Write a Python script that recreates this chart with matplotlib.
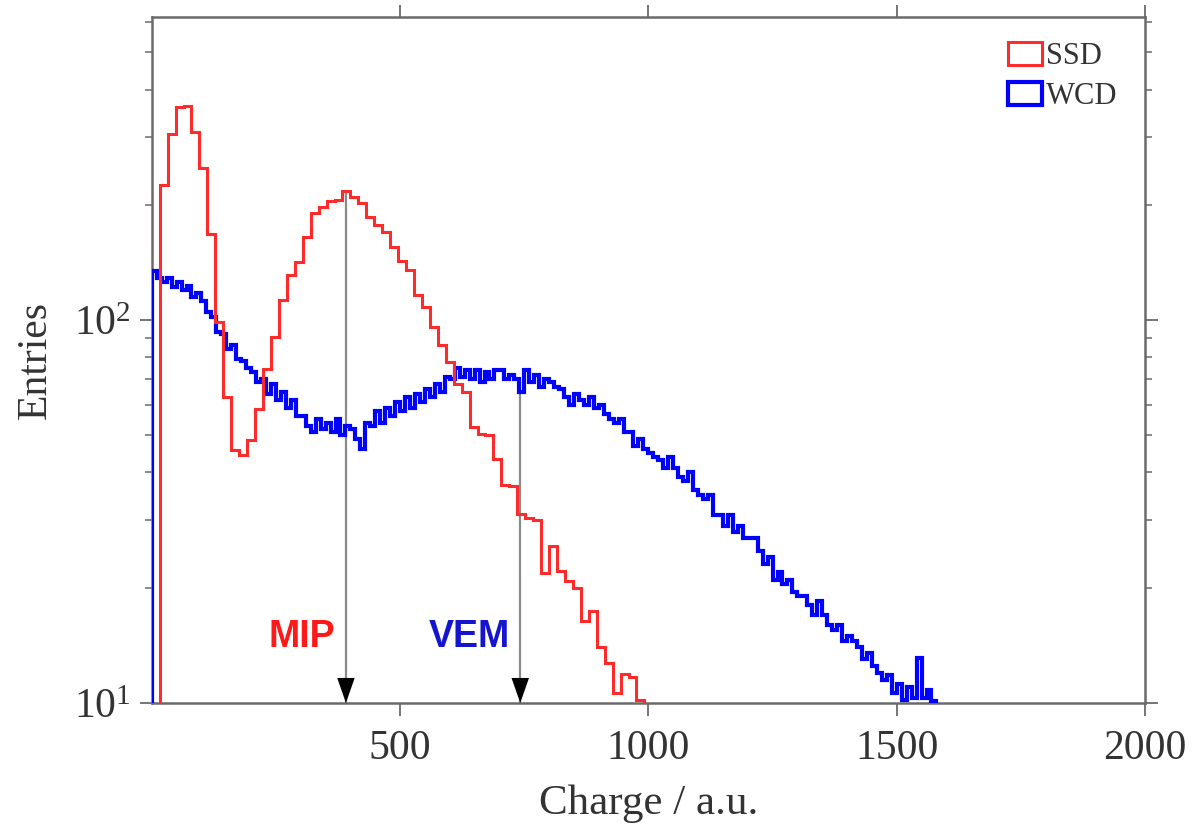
import matplotlib
matplotlib.use("Agg")
import numpy as np
import matplotlib.pyplot as plt
from matplotlib.patches import Patch
from matplotlib.ticker import LogLocator, NullFormatter

plt.rcParams['font.family'] = ['Liberation Serif', 'DejaVu Serif']

# SSD histogram: bin width 16, first bin starts at 16
ssd_start = 16
ssd_width = 16
ssd_counts = [226, 307, 361, 362, 310, 249, 168, 99, 63, 45.7,
              44.3, 48.5, 58.5, 74.4, 90.3, 112.8, 131, 142, 165, 190,
              197, 205, 206, 218, 210, 202, 186, 177, 170, 155,
              143, 135, 116, 108, 96, 86, 77.6, 68, 64.8, 52.5,
              50.5, 50, 43.4, 37, 36.9, 31.1, 30.5, 30, 21.9, 25.7,
              22.1, 20.8, 20, 16.4, 17.4, 14, 12.7, 10.6, 11.9, 11.7,
              10.2]

# WCD histogram: bin width 10, starting at 0
wcd_start = 0
wcd_width = 10
wcd_counts = [134, 129, 126, 129, 122, 126, 120, 123, 115, 118,
              112, 105, 102, 93, 92, 84, 86, 79, 78, 75,
              73, 69, 70, 64, 68, 62, 65, 59, 62, 56,
              56, 53, 51, 55, 52, 54, 51, 55, 50, 53,
              52, 49, 46, 54, 53, 58, 54, 59, 56, 61,
              58, 63, 59, 64, 61, 66, 63, 68, 65, 71,
              70, 75, 71, 74, 70, 74, 69, 73, 70, 74,
              74, 70, 72, 70, 65, 74, 69, 72, 67, 70,
              69, 67, 66, 63, 60, 64, 62, 60, 63, 59,
              60, 57, 55, 54, 55, 51, 51, 47, 49, 46,
              45, 44, 43, 41, 44, 41, 39, 38, 40, 36,
              35, 34, 35, 31, 31, 29, 31, 28, 29, 27,
              27, 27, 25, 23, 24, 21, 22, 20.5, 21, 19.5,
              19, 19, 18, 17, 18.5, 17, 16, 15.5, 16, 14.5,
              15, 14.5, 14, 13, 13.5, 12.5, 12, 11.5, 11.8, 10.6,
              11.2, 10.2, 11, 10.3, 13.1, 10.3, 10.8, 10.1]

# arrows marking the peaks
mip_x, mip_top = 391, 216
vem_x, vem_top = 742, 65

x_ticks = [500, 1000, 1500, 2000]

ssd_edges = ssd_start + ssd_width * np.arange(len(ssd_counts) + 1)
wcd_edges = wcd_start + wcd_width * np.arange(len(wcd_counts) + 1)

fig = plt.figure(figsize=(11.93, 8.27), dpi=100)
ax = fig.add_axes([0.1272, 0.15, 0.8326, 0.8298])

ax.stairs(wcd_counts, wcd_edges, baseline=1, color='#0000ff', lw=3.0, zorder=3)
ax.stairs(ssd_counts, ssd_edges, baseline=1, color='#ff2a2a', lw=2.2, zorder=4)

ax.set_yscale('log')
ax.set_xlim(0, 2000)
ax.set_ylim(10, 620)

for xpos, ytop in [(mip_x, mip_top), (vem_x, vem_top)]:
    ax.vlines(xpos, 10, ytop, color='#8a8a8a', lw=1.6, zorder=2)
    ax.annotate('', xy=(xpos, 10), xytext=(0, 22), textcoords='offset points',
                arrowprops=dict(arrowstyle='-|>,head_length=0.6,head_width=0.21',
                                mutation_scale=30, color='black', lw=0,
                                shrinkA=0, shrinkB=0), zorder=5)

ax.text(369, 14.9, 'MIP', color='#ff1a1a', fontsize=27, fontweight='bold',
        family='Liberation Sans', ha='right', va='center')
ax.text(722, 14.9, 'VEM', color='#1515d0', fontsize=27, fontweight='bold',
        family='Liberation Sans', ha='right', va='center')

ax.set_xticks(x_ticks)
ax.set_xticklabels([str(t) for t in x_ticks])
ax.yaxis.set_major_locator(LogLocator(base=10, numticks=5))
ax.yaxis.set_minor_locator(LogLocator(base=10, subs=np.arange(2, 10), numticks=20))
ax.yaxis.set_minor_formatter(NullFormatter())

for s in ax.spines.values():
    s.set_color('#6a6a6a')
    s.set_linewidth(1.8)
ax.tick_params(which='both', direction='out', top=True, right=True,
               color='#6a6a6a', labelcolor='#333333', labelsize=30)
ax.tick_params(axis='x', pad=10)
ax.tick_params(axis='y', pad=6)
ax.tick_params(which='major', length=9, width=1.3)
ax.tick_params(which='minor', length=5, width=1.1)

ax.set_xlabel('Charge / a.u.', fontsize=31, color='#333333', labelpad=12)
ax.set_ylabel('Entries', fontsize=30, color='#333333', labelpad=14)

handles = [Patch(facecolor='none', edgecolor='#ff2a2a', lw=2.2, label='SSD'),
           Patch(facecolor='none', edgecolor='#0000ff', lw=3.0, label='WCD')]
ax.legend(handles=handles, loc='upper right', bbox_to_anchor=(0.988, 0.985),
          frameon=False, fontsize=22, handlelength=1.1, handleheight=0.75,
          handletextpad=0.15, labelspacing=0.35, borderpad=0, labelcolor='#333333')

fig.savefig('out.png', dpi=100)
